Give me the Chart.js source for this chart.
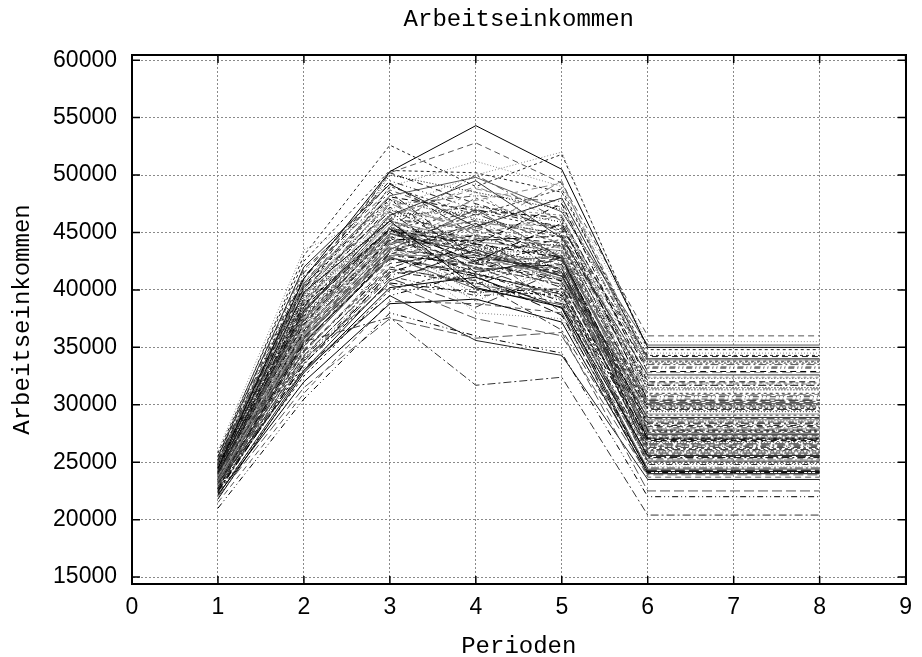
<!DOCTYPE html>
<html>
<head>
<meta charset="utf-8">
<title>Arbeitseinkommen</title>
<script src="https://cdn.jsdelivr.net/npm/chart.js@4.4.1/dist/chart.umd.min.js"></script>
<style>
  html, body { margin: 0; padding: 0; background: #fff; }
  canvas { display: block; }
</style>
</head>
<body>
<canvas id="chart" width="922" height="657"></canvas>
<script>
// Arbeitseinkommen je Simulationslauf, Perioden 1..8 (ab Periode 6 konstant)
const periods = [1, 2, 3, 4, 5, 6, 7, 8];
const xTicks = [0, 1, 2, 3, 4, 5, 6, 7, 8, 9];
const yTicks = [15000, 20000, 25000, 30000, 35000, 40000, 45000, 50000, 55000, 60000];

const period1 = [24500, 25000, 25500, 26000, 24000, 21000, 22000, 23200, 23800, 24200,
  24800, 23500, 25200, 24600, 23900, 24100, 22800, 24400, 25300, 23600,
  24000, 23300, 24700, 23000, 24300, 22500, 23700, 24900, 23400, 22900,
  24200, 23100, 25100, 23800, 22600, 24500, 23300, 22300, 24000, 23500,
  22700, 23000, 25500, 24800, 23900, 24600, 23600, 24300, 23200, 24100,
  22700, 23800, 24400, 23400, 22400, 23100, 25000, 24700, 23700, 24200,
  23500, 24900, 23300, 24000, 22800, 24500, 23600, 22500, 24100, 23000,
  22200, 21500, 25800, 24300, 23800, 24600, 23400, 22100, 24200, 23700,
  24800, 23300, 24400, 23900, 22900, 25200, 24000, 23500, 24600, 22600,
  24300, 23100, 25000, 23800, 24100, 22400, 24700, 23600, 24500, 23200,
  24900, 23400, 22700, 24200, 23700, 21800, 25400, 23000];
const period2 = [41000, 40500, 43000, 43500, 35500, 30500, 31500, 33000, 36800, 38500,
  39500, 37500, 41500, 40000, 38000, 37000, 35000, 39000, 40800, 36500,
  38200, 35800, 39200, 34500, 37800, 33500, 37200, 40200, 36000, 34800,
  38800, 35200, 41200, 36200, 33800, 39800, 35600, 32500, 37600, 34200,
  33200, 34000, 42000, 40500, 38300, 39300, 36900, 38600, 36300, 37400,
  35300, 37900, 39600, 36600, 33900, 35400, 40600, 40100, 37100, 38900,
  36400, 39700, 35900, 38100, 34600, 37700, 36700, 34300, 38400, 35700,
  32000, 31000, 42500, 39400, 37300, 38700, 36100, 33000, 37000, 38000,
  39100, 36000, 38300, 37500, 35500, 40400, 37700, 36800, 39000, 34100,
  38500, 35100, 41000, 36500, 37600, 33600, 39800, 36200, 38200, 35800,
  40300, 37100, 34700, 38800, 36300, 32800, 41800, 36600];
const period3 = [50300, 50200, 52600, 47000, 37600, 38000, 37500, 39500, 45300, 49000,
  50000, 45500, 49500, 47500, 46500, 45200, 44000, 46000, 48000, 44500,
  45300, 43500, 47200, 42500, 45300, 41500, 44000, 46800, 43000, 42000,
  45300, 43500, 48500, 42800, 41000, 46000, 44200, 40000, 43800, 41800,
  39500, 40500, 49200, 46500, 45300, 47800, 44800, 46200, 44600, 44900,
  43000, 45300, 47000, 43700, 41200, 42700, 48200, 50200, 45300, 46600,
  44400, 47600, 43300, 45800, 42300, 44700, 44100, 41600, 45300, 43200,
  38800, 39000, 50400, 49000, 44300, 45300, 43900, 40800, 44600, 46100,
  46300, 43600, 45500, 44900, 42800, 48100, 45100, 44500, 46900, 41300,
  45300, 42900, 49300, 44000, 45300, 40600, 47400, 43500, 46000, 43100,
  47900, 45300, 41900, 46400, 43800, 40200, 48700, 44300];
const period4 = [54300, 52800, 49000, 50000, 31700, 36000, 35800, 35600, 47800, 46500,
  48500, 50000, 47000, 45000, 49500, 44000, 48000, 43500, 44800, 46000,
  42500, 47000, 43000, 45500, 41000, 44000, 42000, 41500, 43000, 40500,
  40000, 39000, 42800, 45000, 38500, 40200, 43800, 42000, 38000, 40800,
  41500, 37500, 45500, 48800, 46800, 46200, 44500, 45200, 41800, 43200,
  42300, 40800, 44000, 40300, 39500, 41200, 49800, 47500, 48500, 46800,
  44300, 43500, 45800, 42200, 43300, 41300, 39600, 40600, 43800, 42000,
  39200, 38800, 50200, 51200, 42600, 44600, 46600, 43500, 45400, 43000,
  47300, 44800, 42400, 46000, 41400, 46900, 44100, 43400, 45700, 42500,
  41800, 40100, 44700, 47200, 43000, 39800, 48200, 42800, 44200, 45600,
  42300, 40700, 44400, 49000, 41600, 41100, 46000, 43900];
const period5 = [50500, 49300, 51800, 52000, 32400, 34500, 36300, 34300, 49300, 48800,
  47000, 46000, 45500, 49500, 44500, 47500, 45000, 44000, 46500, 43000,
  45800, 42800, 41500, 44200, 43500, 42800, 40500, 42800, 41000, 42800,
  39500, 42500, 40200, 39000, 41800, 38500, 38000, 40500, 37500, 36500,
  39000, 36000, 48000, 47200, 45200, 44800, 43800, 42800, 42000, 41200,
  40800, 42800, 41800, 40000, 39800, 37800, 46800, 45300, 43800, 42800,
  44700, 42200, 41500, 43000, 41300, 39800, 41600, 38800, 40800, 39300,
  37200, 38000, 48500, 49000, 42800, 42800, 44000, 41200, 43600, 44400,
  45900, 42500, 41000, 44900, 39600, 46300, 40300, 43200, 45600, 41800,
  42200, 38700, 44100, 46500, 42800, 40100, 47700, 41900, 43400, 42900,
  43900, 39200, 40700, 46100, 42600, 38400, 44600, 41400];
const period6to8 = [35000, 36000, 34800, 34500, 20400, 22000, 22500, 23500, 33900, 33800,
  33700, 33500, 33200, 32800, 32600, 32000, 31900, 31500, 30900, 30700,
  30400, 30100, 29900, 29500, 28600, 28400, 28000, 27800, 27500, 27300,
  27100, 26700, 26500, 26000, 25800, 25600, 25300, 25000, 24600, 24500,
  24100, 23900, 34000, 33900, 31000, 29800, 28800, 28200, 27900, 27400,
  26900, 26200, 25900, 25200, 24800, 24300, 35200, 34200, 33600, 32300,
  31700, 30500, 29600, 29200, 28500, 27700, 27200, 26300, 26800, 25500,
  24000, 23700, 34300, 35500, 26100, 27000, 30200, 28900, 28300, 29100,
  31300, 27600, 26400, 30800, 25100, 32900, 25700, 29400, 31400, 27800,
  27100, 24400, 30000, 32400, 27500, 25400, 33300, 26600, 28700, 28100,
  29700, 24900, 26800, 31800, 27000, 24200, 30300, 26000];

// gnuplot-artige Linientypen
const lineColors = ['#000000', '#555555', '#222222', '#888888', '#333333'];
const lineDashes = [[], [6, 4], [3, 3], [1, 2], [8, 3, 2, 3], [6, 3, 1, 3, 1, 3], [10, 4]];

const datasets = period1.map((_, i) => {
  const ys = [period1[i], period2[i], period3[i], period4[i], period5[i],
    period6to8[i], period6to8[i], period6to8[i]];
  return {
    label: 'Lauf ' + (i + 1),
    data: periods.map((p, k) => ({ x: p, y: ys[k] })),
    borderColor: lineColors[i % lineColors.length],
    borderDash: lineDashes[i % lineDashes.length],
    borderWidth: 1,
    pointRadius: 0,
    tension: 0,
    fill: false
  };
});

// kleine Ticks nach innen, an allen vier Seiten
const innerTicks = {
  id: 'innerTicks',
  afterDatasetsDraw(chart) {
    const { ctx, chartArea: a, scales: { x, y } } = chart;
    const len = 8;
    ctx.save();
    ctx.strokeStyle = '#000';
    ctx.lineWidth = 1.5;
    ctx.setLineDash([]);
    ctx.beginPath();
    xTicks.forEach(v => {
      const px = x.getPixelForValue(v);
      ctx.moveTo(px, a.bottom); ctx.lineTo(px, a.bottom - len);
      ctx.moveTo(px, a.top); ctx.lineTo(px, a.top + len);
    });
    yTicks.forEach(v => {
      const py = y.getPixelForValue(v);
      ctx.moveTo(a.left, py); ctx.lineTo(a.left + len, py);
      ctx.moveTo(a.right, py); ctx.lineTo(a.right - len, py);
    });
    ctx.stroke();
    ctx.restore();
  }
};

const tickFont = { family: "'Liberation Sans', Arial, sans-serif", size: 23 };
const monoFont = { family: "'Liberation Mono', 'Courier New', monospace", size: 24, lineHeight: 0.9 };
const gridStyle = { color: '#8a8a8a', lineWidth: 1, drawTicks: false };
const borderStyle = { display: true, color: '#000', width: 2, z: 1, dash: [2, 2] };

new Chart(document.getElementById('chart').getContext('2d'), {
  type: 'line',
  data: { datasets },
  options: {
    responsive: false,
    animation: false,
    events: [],
    layout: { padding: 0 },
    plugins: {
      legend: { display: false },
      title: { display: false },
      tooltip: { enabled: false }
    },
    scales: {
      x: {
        type: 'linear',
        position: 'bottom',
        min: 0,
        max: 9,
        afterBuildTicks: s => { s.ticks = xTicks.map(v => ({ value: v })); },
        afterFit: s => { s.height = 73; },
        ticks: { color: '#000', font: tickFont, padding: 10, maxRotation: 0 },
        grid: gridStyle,
        border: borderStyle,
        title: { display: true, text: 'Perioden', color: '#000', font: monoFont, padding: { top: 0, bottom: 0 } }
      },
      x2: {
        type: 'linear',
        axis: 'x',
        position: 'top',
        min: 0,
        max: 9,
        afterFit: s => { s.height = 55; },
        ticks: { display: false },
        grid: { display: false },
        border: borderStyle,
        title: { display: true, text: 'Arbeitseinkommen', color: '#000', font: { ...monoFont, lineHeight: 1 }, padding: { top: 8, bottom: 0 } }
      },
      y: {
        type: 'linear',
        position: 'left',
        min: 14400,
        max: 60450,
        afterBuildTicks: s => { s.ticks = yTicks.map(v => ({ value: v })); },
        afterFit: s => { s.width = 132; },
        ticks: { color: '#000', font: tickFont, padding: 15, callback: v => String(v) },
        grid: gridStyle,
        border: borderStyle,
        title: { display: true, text: 'Arbeitseinkommen', color: '#000', font: { ...monoFont, lineHeight: 1.2 }, padding: { top: 8, bottom: 0 } }
      },
      y2: {
        type: 'linear',
        axis: 'y',
        position: 'right',
        min: 14400,
        max: 60450,
        afterFit: s => { s.width = 6; },
        ticks: { display: false },
        grid: { display: false },
        border: borderStyle
      }
    }
  },
  plugins: [innerTicks]
});
</script>
</body>
</html>
